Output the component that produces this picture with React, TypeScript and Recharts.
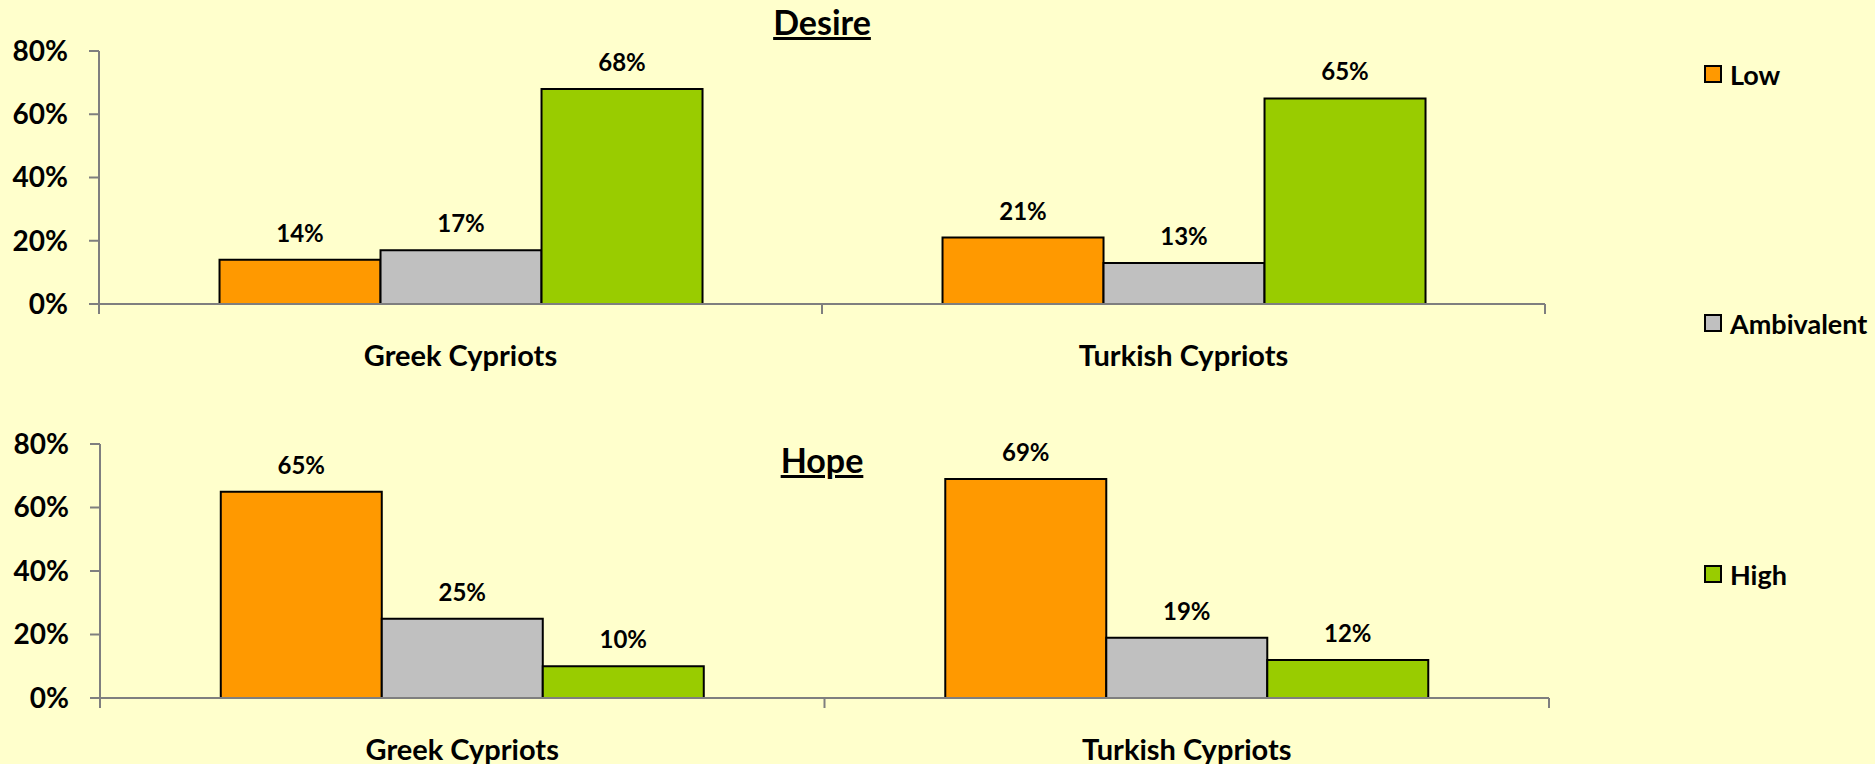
import React from 'react';
import { BarChart, Bar, XAxis, YAxis, LabelList } from 'recharts';

const groups = ['Greek Cypriots', 'Turkish Cypriots'];
const seriesNames = ['Low', 'Ambivalent', 'High'];
const seriesColors = ['#FF9900', '#C0C0C0', '#99CC00'];

// percentages per group, in series order
const desireLow = [14, 21];
const desireAmbivalent = [17, 13];
const desireHigh = [68, 65];

const hopeLow = [65, 69];
const hopeAmbivalent = [25, 19];
const hopeHigh = [10, 12];

const yTicks = [0, 20, 40, 60, 80];

const FONT = 'Lato, "Open Sans", sans-serif';
const AXIS = '#7f7f7f';

const buildRows = (low: number[], amb: number[], high: number[]) =>
  groups.map((g, i) => ({ group: g, Low: low[i], Ambivalent: amb[i], High: high[i] }));

const desireData = buildRows(desireLow, desireAmbivalent, desireHigh);
const hopeData = buildRows(hopeLow, hopeAmbivalent, hopeHigh);

const CategoryTick = (props: any) => {
  const { x, y, payload, index, width, visibleTicksCount } = props;
  const n = visibleTicksCount || groups.length;
  const half = payload?.offset ? payload.offset : width / (n * 2);
  const isLast = index === n - 1;
  return (
    <g>
      <line x1={x - half} y1={y} x2={x - half} y2={y + 10} stroke={AXIS} strokeWidth={2} />
      {isLast && <line x1={x + half} y1={y} x2={x + half} y2={y + 10} stroke={AXIS} strokeWidth={2} />}
      <text x={x} y={y + 62} textAnchor="middle" fontFamily={FONT} fontWeight="bold" fontSize={29} fill="#000">
        {payload.value}
      </text>
    </g>
  );
};

interface PanelProps {
  data: any[];
  top: number;
  height: number;
  marginTop: number;
  marginRight: number;
  marginBottom: number;
  yWidth: number;
}

const Panel: React.FC<PanelProps> = ({ data, top, height, marginTop, marginRight, marginBottom, yWidth }) => (
  <div style={{ position: 'absolute', left: 0, top }}>
    <BarChart
      width={1600}
      height={height}
      data={data}
      margin={{ top: marginTop, right: marginRight, left: 0, bottom: marginBottom }}
      barCategoryGap="16.67%"
      barGap={0}
    >
      <XAxis
        dataKey="group"
        height={66}
        axisLine={{ stroke: AXIS, strokeWidth: 2 }}
        tickLine={false}
        tickSize={0}
        tickMargin={0}
        tick={<CategoryTick />}
        interval={0}
      />
      <YAxis
        width={yWidth}
        domain={[0, 80]}
        ticks={yTicks}
        tickFormatter={(v) => `${v}%`}
        axisLine={{ stroke: AXIS, strokeWidth: 2 }}
        tickLine={{ stroke: AXIS, strokeWidth: 2 }}
        tickSize={10}
        tickMargin={21}
        tick={{ fill: '#000', fontFamily: FONT, fontWeight: 'bold', fontSize: 28 }}
        interval={0}
      />
      {seriesNames.map((s, i) => (
        <Bar key={s} dataKey={s} fill={seriesColors[i]} stroke="#000" strokeWidth={2} isAnimationActive={false}>
          <LabelList
            dataKey={s}
            position="top"
            offset={18}
            formatter={(v: any) => `${v}%`}
            fill="#000"
            fontFamily={FONT}
            fontWeight="bold"
            fontSize={24}
          />
        </Bar>
      ))}
    </BarChart>
  </div>
);

const Title: React.FC<{ text: string; baseline: number }> = ({ text, baseline }) => (
  <div
    style={{
      position: 'absolute',
      left: 622,
      width: 400,
      top: baseline - 33,
      textAlign: 'center',
      fontFamily: FONT,
      fontWeight: 'bold',
      fontSize: 34,
      lineHeight: '40px',
      textDecoration: 'underline',
      textDecorationThickness: '3px',
      color: '#000',
    }}
  >
    {text}
  </div>
);

const legendCenters = [74, 323, 574];

export default function App() {
  return (
    <div
      style={{
        position: 'absolute',
        left: 0,
        top: 0,
        width: 1875,
        height: 764,
        background: '#FFFFCC',
        overflow: 'hidden',
      }}
    >
      <Panel data={desireData} top={0} height={390} marginTop={51} marginRight={55} marginBottom={20} yWidth={99} />
      <Panel data={hopeData} top={370} height={394} marginTop={74} marginRight={51} marginBottom={0} yWidth={100} />
      <Title text="Desire" baseline={35} />
      <Title text="Hope" baseline={473} />
      {seriesNames.map((s, i) => (
        <div
          key={s}
          style={{
            position: 'absolute',
            left: 1704,
            top: legendCenters[i] - 16,
            height: 32,
            display: 'flex',
            alignItems: 'center',
            fontFamily: FONT,
            fontWeight: 'bold',
            fontSize: 27,
            color: '#000',
          }}
        >
          <span
            style={{
              display: 'inline-block',
              width: 14,
              height: 14,
              background: seriesColors[i],
              border: '2px solid #000',
              marginRight: 8,
            }}
          />
          {s}
        </div>
      ))}
    </div>
  );
}
